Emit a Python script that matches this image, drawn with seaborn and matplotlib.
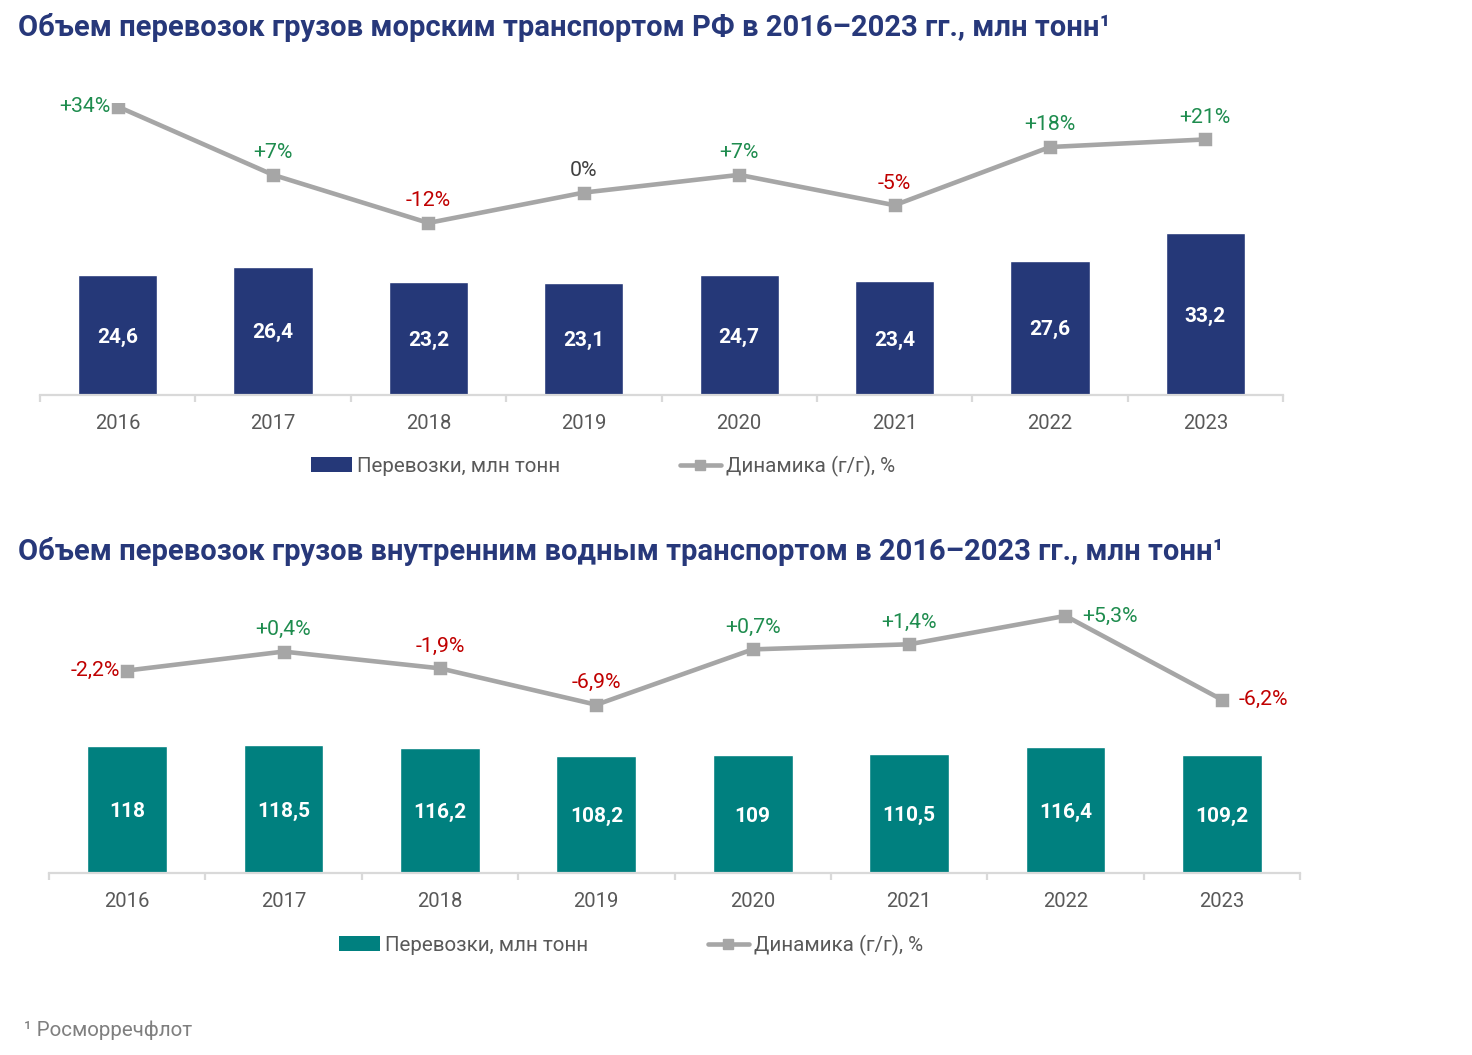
import matplotlib
matplotlib.use("Agg")
import matplotlib.pyplot as plt
import numpy as np
import pandas as pd
import seaborn as sns
from matplotlib.patches import Patch
from matplotlib.lines import Line2D

YEARS = ["2016", "2017", "2018", "2019", "2020", "2021", "2022", "2023"]
SEA_VOLUME = [24.6, 26.4, 23.2, 23.1, 24.7, 23.4, 27.6, 33.2]
SEA_GROWTH = [34, 7, -12, 0, 7, -5, 18, 21]
RIVER_VOLUME = [118, 118.5, 116.2, 108.2, 109, 110.5, 116.4, 109.2]
RIVER_GROWTH = [-2.2, 0.4, -1.9, -6.9, 0.7, 1.4, 5.3, -6.2]

TITLE_SEA = "Объем перевозок грузов морским транспортом РФ в 2016–2023 гг., млн тонн¹"
TITLE_RIVER = "Объем перевозок грузов внутренним водным транспортом в 2016–2023 гг., млн тонн¹"
LEGEND_BAR = "Перевозки, млн тонн"
LEGEND_LINE = "Динамика (г/г), %"
FOOTNOTE = "¹ Росморречфлот"

NAVY = "#253878"
TEAL = "#00807f"
LINE_GREY = "#a6a6a6"
GREEN = "#1e8c4e"
RED = "#c00000"
TEXT_GREY = "#595959"

sns.set_theme(style="white")
plt.rcParams["font.family"] = ["Roboto", "DejaVu Sans"]

W, H = 1472, 1055
fig = plt.figure(figsize=(W / 100, H / 100), dpi=100)


def px_axes(x0, x1, ytop, ybot):
    return fig.add_axes([x0 / W, 1 - ybot / H, (x1 - x0) / W, (ybot - ytop) / H])


def fmt_pct(v, decimals):
    if decimals == 0:
        s = "{:d}%".format(int(round(v)))
    else:
        s = "{:.1f}%".format(abs(v)).replace(".", ",")
        s = ("-" if v < 0 else "") + s
    if v > 0:
        s = "+" + s
    return s


def draw_panel(ax, volume, growth, color, vlim, glim, decimals, placements, vol_fmt):
    df = pd.DataFrame({"year": YEARS, "volume": volume, "growth": growth})
    sns.barplot(data=df, x="year", y="volume", color=color, saturation=1,
                width=0.51, ax=ax)
    ax.set_ylim(*vlim)
    ax.set_xlim(-0.5, 7.5)
    for i, v in enumerate(volume):
        ax.annotate(vol_fmt(v), (i, v / 2), xytext=(0, -1.5), textcoords="offset points",
                    ha="center", va="center", color="white",
                    fontsize=15, fontweight="bold")

    ax2 = ax.twinx()
    sns.pointplot(data=df, x="year", y="growth", color=LINE_GREY, markers="s",
                  markersize=6.5, linewidth=3.3, ax=ax2)
    ax2.set_ylim(*glim)
    ax2.set_xlim(-0.5, 7.5)

    for i, g in enumerate(growth):
        txt = fmt_pct(g, decimals)
        col = GREEN if g > 0 else (RED if g < 0 else "#404040")
        pos = placements.get(i, "above")
        if pos == "above":
            off, ha, va = (0, 16), "center", "center"
        elif pos == "left":
            off, ha, va = (-5, 0), "right", "center"
        else:
            off, ha, va = (12, 0), "left", "center"
        ax2.annotate(txt, (i, g), xytext=off, textcoords="offset points",
                     ha=ha, va=va, color=col, fontsize=15.3)

    for a in (ax, ax2):
        a.set_xlabel("")
        a.set_ylabel("")
        a.set_yticks([])
        for s in ("left", "right", "top"):
            a.spines[s].set_visible(False)
        a.patch.set_alpha(0)
    ax2.spines["bottom"].set_visible(False)
    ax.spines["bottom"].set_color("#d9d9d9")
    ax.spines["bottom"].set_linewidth(1.6)
    ax.set_xticks(range(len(YEARS)))
    ax.set_xticklabels(YEARS)
    ax.set_xticks(np.arange(-0.5, 8, 1), minor=True)
    ax.tick_params(axis="x", which="major", length=0, pad=14,
                   labelsize=14.6, labelcolor=TEXT_GREY)
    ax.tick_params(axis="x", which="minor", length=5, width=1.6,
                   color="#d9d9d9", direction="out", bottom=True)
    ax2.tick_params(axis="x", which="both", length=0, labelbottom=False)


ax_sea = px_axes(40, 1283, 103, 395)
draw_panel(ax_sea, SEA_VOLUME, SEA_GROWTH, NAVY, (0, 60), (-80, 35.4), 0,
           {0: "left"}, lambda v: "{:.1f}".format(v).replace(".", ","))

ax_river = px_axes(49, 1300, 603, 873)
draw_panel(ax_river, RIVER_VOLUME, RIVER_GROWTH, TEAL, (0, 250), (-30, 7.07), 1,
           {0: "left", 6: "right", 7: "right"},
           lambda v: ("{:.1f}".format(v).replace(".", ",") if v % 1 else "{:d}".format(int(v))))

fig.text(18 / W, 1 - 28 / H, TITLE_SEA, ha="left", va="center", fontsize=21,
         fontweight="bold", color="#27387a")
fig.text(18 / W, 1 - 551 / H, TITLE_RIVER, ha="left", va="center", fontsize=21,
         fontweight="bold", color="#27387a")


def add_legend(color, cx, cy):
    handles = [Patch(facecolor=color, edgecolor="none"),
               Line2D([0], [0], color=LINE_GREY, lw=3.3, marker="s", markersize=6.5)]
    fig.legend(handles, [LEGEND_BAR, LEGEND_LINE], loc="center",
               bbox_to_anchor=(cx / W, 1 - cy / H), ncol=2, frameon=False,
               fontsize=14.8, labelcolor=TEXT_GREY, handlelength=2.0,
               handletextpad=0.25, columnspacing=5.8)


add_legend(NAVY, 603, 466)
add_legend(TEAL, 631, 945)

fig.text(24 / W, 1 - 1030 / H, FOOTNOTE, ha="left", va="center", fontsize=14.8,
         color="#7f7f7f")

fig.savefig("out.png", dpi=100)
